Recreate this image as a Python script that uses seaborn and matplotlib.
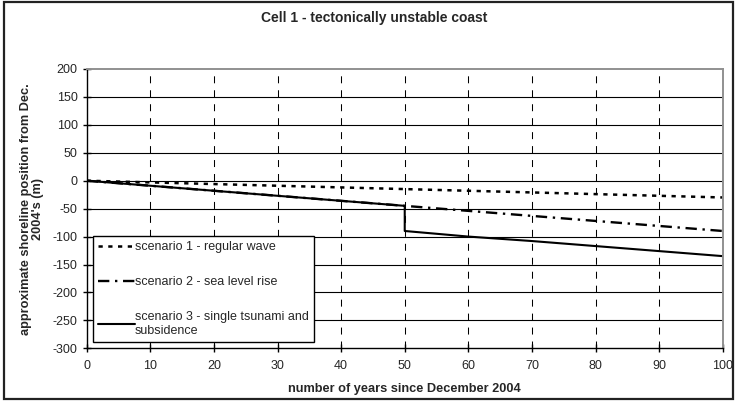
import seaborn as sns
import matplotlib.pyplot as plt
import matplotlib.patches as mpatches

# values (m), years since Dec 2004
years = [0, 10, 20, 30, 40, 50, 60, 70, 80, 90, 100]
scen1 = [0, -3, -6, -9, -12, -15, -18, -21, -24, -27, -30]

years_slr = [0, 10, 20, 30, 40, 50, 60, 70, 80, 90, 100]
scen2 = [0, -9, -18, -27, -36, -45, -54, -63, -72, -81, -90]

# tsunami: step down at year 50
years_tsu = [0, 10, 20, 30, 40, 50, 50, 60, 70, 80, 90, 100]
scen3 = [0, -9, -18, -27, -36, -45, -90, -100, -108, -117, -126, -135]

labels = ["scenario 1 - regular wave",
          "scenario 2 - sea level rise",
          "scenario 3 - single tsunami and\nsubsidence"]

sns.set_style("white")
plt.rcParams['font.family'] = ['Liberation Sans', 'DejaVu Sans']
plt.rcParams['axes.unicode_minus'] = False

fig = plt.figure(figsize=(7.35, 4.01), dpi=100)
ax = fig.add_axes([0.118, 0.1314, 0.8653, 0.6966])

sns.lineplot(x=years, y=scen1, ax=ax, color='black', lw=1.8,
             linestyle=(0, (1.7, 2.2)), estimator=None, sort=False, label=labels[0])
sns.lineplot(x=years_slr, y=scen2, ax=ax, color='black', lw=1.7,
             linestyle=(0, (4.8, 2.4, 1.0, 2.4)), estimator=None, sort=False, label=labels[1])
sns.lineplot(x=years_tsu, y=scen3, ax=ax, color='black', lw=1.5,
             linestyle='-', estimator=None, sort=False, label=labels[2])

ax.set_xlim(0, 100)
ax.set_ylim(-300, 200)
ax.set_xticks(range(0, 101, 10))
ax.set_yticks(range(-300, 201, 50))

# horizontal solid gridlines, vertical dashed ones
for y in range(-250, 151, 50):
    ax.axhline(y, color='black', lw=0.8, zorder=0)
for x in range(10, 100, 10):
    ax.axvline(x, color='black', lw=0.75, linestyle=(0, (6.7, 6.7)), zorder=0)

for s in ['top', 'right']:
    ax.spines[s].set_color('#909090')
    ax.spines[s].set_linewidth(1.4)
for s in ['left', 'bottom']:
    ax.spines[s].set_color('black')
    ax.spines[s].set_linewidth(1.0)

ax.tick_params(axis='both', direction='inout', length=6, width=1, color='black',
               labelsize=9, bottom=True, left=True)
ax.tick_params(axis='x', pad=5.5)

ax.set_xlabel('number of years since December 2004', fontsize=9.2, fontweight='bold')
ax.xaxis.set_label_coords(0.5, -0.145)
ax.xaxis.label.set_va('center')
ax.set_ylabel("approximate shoreline position from Dec.\n2004's (m)",
              fontsize=9.2, fontweight='bold', linespacing=1.05)
ax.yaxis.set_label_coords(-0.086, 0.5)
ax.yaxis.label.set_va('center')

fig.text(0.509, 0.956, 'Cell 1 - tectonically unstable coast', ha='center', va='center',
         fontsize=10, fontweight='bold')

leg = ax.legend(loc='upper left', bbox_to_anchor=(0.010, 0.402), fontsize=9,
                frameon=True, fancybox=False, handlelength=2.95, handletextpad=0.0,
                labelspacing=1.85, borderpad=0.4, borderaxespad=0)
leg.get_frame().set_edgecolor('black')
leg.get_frame().set_linewidth(1.0)
leg.get_frame().set_facecolor('white')
leg.get_frame().set_alpha(1)

# outer frame around the whole figure
fig.patches.append(mpatches.Rectangle((0.0054, 0.005), 0.992, 0.990, transform=fig.transFigure,
                                      fill=False, edgecolor='#222222', lw=1.6))

plt.savefig("out.png", dpi=100)
